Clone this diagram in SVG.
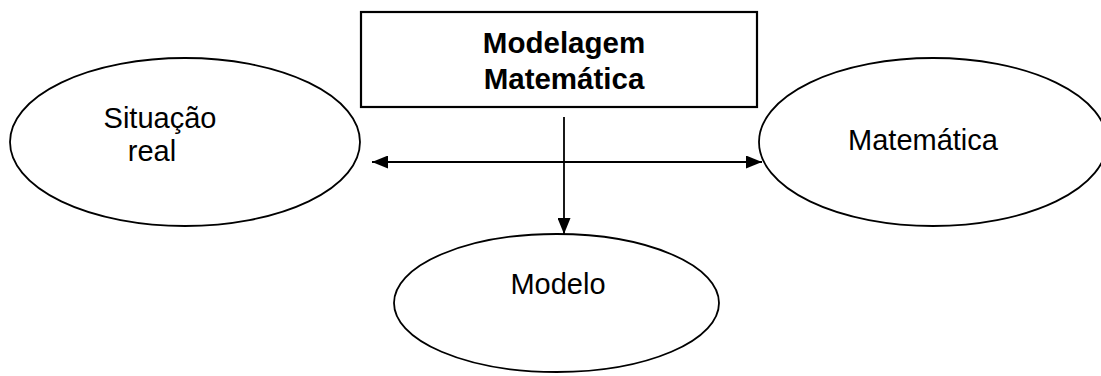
<svg xmlns="http://www.w3.org/2000/svg" width="1101" height="376" viewBox="0 0 1101 376">
<style>
.shape{fill:#fff;stroke:#000;stroke-width:1.8}
.lbl{font-family:"Liberation Sans",Arial,sans-serif;font-size:29px;fill:#000}
.bold{font-weight:bold;font-size:29.5px}
.conn{stroke:#000;stroke-width:1.8;fill:none}
</style>
<defs>
<marker id="ah" viewBox="0 0 16 13" refX="16" refY="6.5" markerWidth="16" markerHeight="13" markerUnits="userSpaceOnUse" orient="auto-start-reverse">
<path d="M0,0 L16,6.5 L0,13 z" fill="#000"/>
</marker>
</defs>
<rect width="1101" height="376" fill="#fff"/>
<g id="node-modelagem">
<rect class="shape" x="361" y="12" width="396" height="95" style="stroke-width:2.2"/>
<text class="lbl bold" x="564" y="53" text-anchor="middle">Modelagem</text>
<text class="lbl bold" x="564" y="89" text-anchor="middle">Matemática</text>
</g>
<g id="node-situacao">
<ellipse class="shape" cx="185" cy="142" rx="175" ry="84"/>
<text class="lbl" x="160" y="128" text-anchor="middle">Situação</text>
<text class="lbl" x="152" y="161" text-anchor="middle">real</text>
</g>
<g id="node-matematica">
<ellipse class="shape" cx="933" cy="142" rx="174" ry="84"/>
<text class="lbl" x="923" y="150" text-anchor="middle">Matemática</text>
</g>
<g id="node-modelo">
<ellipse class="shape" cx="556.5" cy="303" rx="162.5" ry="69"/>
<text class="lbl" x="558" y="294" text-anchor="middle">Modelo</text>
</g>
<g id="connectors">
<line class="conn" x1="372" y1="162" x2="762" y2="162" marker-start="url(#ah)" marker-end="url(#ah)"/>
<line class="conn" x1="564" y1="117" x2="564" y2="234" marker-end="url(#ah)"/>
</g>
</svg>
